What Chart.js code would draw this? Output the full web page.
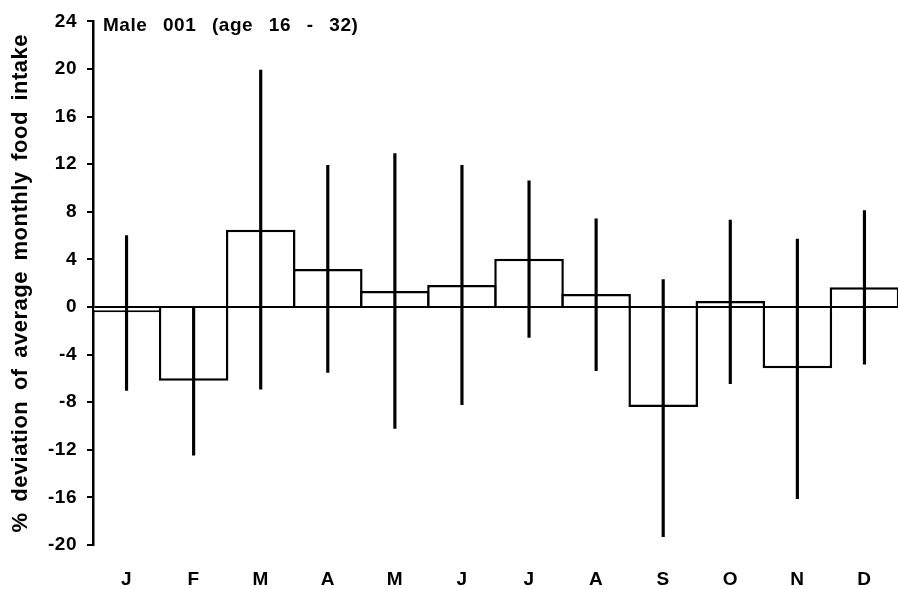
<!DOCTYPE html>
<html lang="en">
<head>
<meta charset="UTF-8">
<title>Male 001 food intake deviation</title>
<script src="https://cdn.jsdelivr.net/npm/chart.js"></script>
<style>
    body { margin: 0; background: #fff; }
    #wrap { width: 898px; height: 589px; }
</style>
</head>
<body>
<div id="wrap"><canvas id="intakeChart"></canvas></div>
<script>
// monthly values
const months = ['J', 'F', 'M', 'A', 'M', 'J', 'J', 'A', 'S', 'O', 'N', 'D'];
const meanDev = [-0.45, -6.2, 6.5, 3.2, 1.35, 1.85, 4.05, 1.1, -8.4, 0.5, -5.15, 1.65];
const errTop = [6.0, 0, 19.9, 11.9, 12.9, 11.9, 10.6, 7.4, 2.3, 7.3, 5.7, 8.1];
const errBottom = [-7.0, -12.45, -6.9, -5.5, -10.2, -8.2, -2.55, -5.35, -19.3, -6.45, -16.1, -4.8];
const yLabels = [-20, -16, -12, -8, -4, 0, 4, 8, 12, 16, 20, 24];
const panelTitle = 'Male 001 (age 16 - 32)';
const yTitle = '% deviation of average monthly food intake';

const FONT = 'Arial, "Liberation Sans", sans-serif';

// the scanned figure has loosely spaced lettering
const spacing = {
    id: 'spacing',
    beforeDraw(chart) {
        chart.ctx.letterSpacing = '0.5px';
        chart.ctx.wordSpacing = '4px';
    }
};

const panelLabel = {
    id: 'panelLabel',
    afterDraw(chart) {
        const c = chart.ctx;
        c.save();
        c.font = 'bold 19px ' + FONT;
        c.fillStyle = '#000';
        c.textBaseline = 'alphabetic';
        c.wordSpacing = '10px';
        c.fillText(panelTitle, chart.chartArea.left + 10, 31);
        c.restore();
    }
};

new Chart(document.getElementById('intakeChart'), {
    type: 'bar',
    data: {
        labels: months,
        datasets: [
            {
                data: errBottom.map((v, i) => [v, errTop[i]]),
                backgroundColor: '#000',
                borderWidth: 0,
                barThickness: 2.5,
                grouped: false,
                order: 0
            },
            {
                data: meanDev,
                backgroundColor: '#fff',
                borderColor: '#000',
                borderWidth: 2.5,
                categoryPercentage: 1.0,
                barPercentage: 1.037,
                grouped: false,
                order: 1
            }
        ]
    },
    options: {
        responsive: true,
        maintainAspectRatio: false,
        animation: false,
        layout: { padding: { top: 18, left: 0, right: 0, bottom: 0 } },
        plugins: {
            legend: { display: false },
            tooltip: { enabled: false }
        },
        scales: {
            x: {
                grid: { display: false, drawTicks: false },
                border: { display: false },
                ticks: {
                    color: '#000',
                    padding: 23,
                    font: { family: FONT, size: 19, weight: 'bold' }
                },
                afterFit: s => { s.height = 44; }
            },
            y: {
                min: -20,
                max: 24,
                border: { color: '#000', width: 2.5 },
                grid: {
                    color: ctx => ctx.tick.value === 0 ? '#000' : 'rgba(0,0,0,0)',
                    lineWidth: 2,
                    tickColor: '#000',
                    tickLength: 6,
                    tickWidth: 2
                },
                ticks: {
                    stepSize: 2,
                    color: '#000',
                    padding: 10,
                    font: { family: FONT, size: 19, weight: 'bold' },
                    callback: v => yLabels.includes(v) ? String(v) : ''
                },
                title: {
                    display: true,
                    text: yTitle,
                    color: '#000',
                    padding: { top: 8, bottom: 0 },
                    font: { family: FONT, size: 22, weight: 'bold' }
                },
                afterFit: s => { s.width = 93; }
            }
        }
    },
    plugins: [spacing, panelLabel]
});
</script>
</body>
</html>
